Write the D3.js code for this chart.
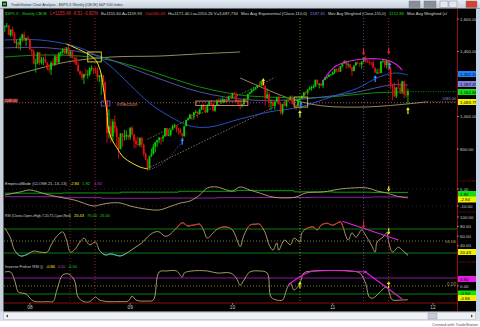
<!DOCTYPE html>
<html><head><meta charset="utf-8">
<script src="https://cdn.jsdelivr.net/npm/d3@7"></script>
<style>body{margin:0;background:#fff;overflow:hidden}svg{display:block}text{font-family:"Liberation Sans",Arial,sans-serif}</style>
</head><body><svg id="c" width="480" height="327"></svg>
<script>
// ---------- DATA (weekly S&P 500, week ending Fridays from 2007-10-05) ----------
const closes=[1557,1561,1501,1535,1509,1453,1458,1440,1481,1504,1467,1484,1478,
1411,1401,1325,1330,1395,1331,1349,1353,1331,1294,1288,1330,1316,1370,1332,1390,1398,1413,1389,1425,1375,1400,1361,1360,1318,1278,1262,1239,1260,1257,1260,1296,1298,1292,1282,1242,1252,1255,1213,1099,899,940,877,968,930,873,800,896,876,879,887,872,
931,890,850,831,825,869,827,770,735,683,756,768,815,842,856,869,866,877,929,882,887,919,940,946,921,918,896,879,940,979,987,1010,1005,1026,1029,1016,1042,1068,1044,1025,1071,1087,1079,1036,1069,1093,1091,1092,1106,1106,1102,1127,1115,
1145,1136,1092,1074,1066,1075,1109,1105,1139,1150,1160,1167,1179,1194,1192,1217,1187,1111,1136,1088,1089,1065,1092,1117,1076,1023,1078,1065,1103,1102,1122,1079,1071,1065,1105,1110,1125,1149,1147,1166,1176,1183,1183,1226,1200,1200,1190,1225,1240,1244,1257,1258,
1272,1293,1283,1276,1311,1329,1343,1320,1321,1304,1279,1314,1332,1329,1320,1338,1364,1340,1338,1333,1331,1300,1271,1271,1268,1340,1344,1316,1345,1292,1199,1179,1124,1177,1174,1154,1216,1136,1131,1155];
const highs=[1561,1576,1564,1536,1552,1520,1474,1460,1488,1510,1524,1485,1498,
1471,1418,1414,1355,1396,1396,1367,1367,1388,1332,1321,1341,1359,1380,1380,1395,1402,1422,1425,1426,1440,1406,1406,1370,1370,1335,1285,1278,1262,1292,1285,1302,1314,1300,1303,1303,1255,1266,1255,1214,1095,1044,985,984,1007,941,874,896,896,918,914,880,
934,943,888,871,877,870,876,835,780,741,758,803,832,845,856,875,871,888,930,924,924,920,951,956,946,930,930,896,943,980,996,1018,1013,1027,1040,1031,1048,1074,1080,1061,1076,1096,1101,1085,1072,1105,1113,1112,1119,1108,1117,1129,1131,
1146,1150,1150,1103,1104,1080,1112,1113,1139,1151,1170,1181,1181,1195,1214,1218,1219,1197,1174,1150,1106,1105,1092,1120,1131,1083,1078,1099,1103,1120,1128,1130,1097,1074,1105,1110,1131,1149,1158,1167,1184,1189,1196,1227,1227,1207,1206,1225,1241,1246,1259,1262,
1278,1293,1296,1302,1311,1330,1344,1344,1332,1322,1303,1314,1337,1339,1328,1339,1364,1371,1349,1346,1334,1346,1301,1292,1298,1341,1356,1340,1347,1346,1308,1200,1208,1182,1230,1204,1220,1220,1195,1171];
const lows=[1521,1546,1500,1490,1492,1450,1420,1416,1406,1460,1467,1435,1468,
1410,1370,1320,1270,1322,1317,1320,1316,1330,1283,1270,1256,1312,1312,1330,1324,1370,1380,1383,1384,1373,1364,1358,1326,1316,1275,1252,1225,1200,1248,1233,1248,1278,1261,1263,1217,1212,1133,1180,1089,840,865,840,845,899,818,741,798,815,851,857,857,
857,883,804,805,821,812,808,754,731,667,672,751,767,779,814,838,826,845,878,878,879,877,916,929,903,888,896,869,875,941,974,984,978,980,1018,991,1015,1038,1041,1019,1026,1065,1070,1030,1029,1068,1085,1083,1086,1085,1093,1099,1114,
1114,1131,1090,1071,1045,1056,1073,1086,1104,1136,1145,1156,1165,1175,1188,1186,1184,1066,1111,1056,1040,1061,1042,1087,1073,1011,1010,1063,1056,1089,1102,1076,1069,1040,1064,1091,1107,1122,1131,1131,1162,1160,1171,1180,1194,1173,1185,1174,1222,1231,1242,1252,
1257,1262,1271,1275,1276,1302,1324,1294,1300,1291,1249,1280,1313,1322,1306,1295,1333,1330,1330,1318,1312,1298,1268,1261,1262,1267,1330,1301,1295,1282,1168,1101,1120,1113,1172,1136,1137,1114,1116,1075];
const firstOpen=1557;
const yearLabels=["08","09","10","11","12"];
const yearStarts=["2008-01-04","2009-01-02","2010-01-08","2011-01-07","2012-01-06"];
const priceTicks=[1600,1400,1000,800];
// moving averages traced [week index, price]
const maBlue=[[0,1471],[18,1471],[34,1440],[44,1397],[54,1317],[65,1194],[75,1083],[86,997],[96,942],[106,935],[122,985],[137,1028],[153,1058],[169,1120],[183,1175],[194,1243],[203,1268],[209,1255]];
const maPurple=[[0,1422],[23,1422],[49,1372],[75,1255],[101,1151],[127,1102],[148,1102],[169,1126],[183,1151],[200,1194],[209,1194]];
const maGreen=[[0,1366],[18,1378],[39,1372],[54,1348],[70,1298],[86,1237],[101,1182],[122,1132],[137,1120],[157,1114],[174,1126],[191,1145],[209,1151]];
const tanArc1=[[0,1237],[11,1274],[32,1335],[55,1366],[80,1372],[100,1385],[122,1397]];
const tanArc2=[[122,1237],[137,1160],[150,1102],[165,1065],[185,1058],[200,1068],[219,1090]];
const yellowArc=[[32,1446],[43,1385],[47,1348],[49.4,1286],[51,1182],[52,1102],[53,1022],[53.5,935],[55.6,855],[58.2,806],[61.3,751],[65.9,714],[70.1,689],[74.2,677]];
const purpleArc=[[74.2,670],[80.5,701],[85.6,751],[89.3,806],[91.9,843],[92.4,874]];
const magentaArc=[[164.5,1212],[167.1,1255],[170.2,1298],[173.8,1323],[179,1342],[185.7,1354],[194.5,1354],[199.7,1342],[203.4,1317],[206,1286]];
const chanLow=[[74,680],[140,1060]];
const chanHigh=[[74,860],[140,1240]];
const level1085=1085;
// EMD panel
const emdTrend=[[0,-0.3],[8,2.4],[13,4.1],[21,0.6],[28,-2.1],[36,-4.7],[46,-10],[49,-9.1],[54,-7.4],[60,-7.4],[65,-10],[73,-12.7],[80,-13.5],[85,-10.9],[91,-7.4],[96,-5.6],[101,-0.3],[105,5.9],[110,6.8],[115,4.1],[118,3.2],[122,6.8],[127,4.1],[132,1.5],[139,-2.1],[146,-2.9],[151,-2.1],[156,1.5],[165,2.4],[174,5],[180,5.9],[188,5.9],[193,3.2],[198,1.5],[203,-1.2],[209,-2.84]];
const emdUpper=[[0,1.3],[30,1.5],[60,2.2],[90,3.0],[120,3.8],[130,3.5],[150,2.5],[170,2.2],[190,2.0],[209,1.92]];
const emdLower=[[0,-1.8],[30,-2.6],[50,-3.2],[80,-3.0],[110,-2.6],[130,-2.5],[160,-2.3],[190,-2.0],[209,-1.92]];
// RSI panel
const rsiVals=[[0,77],[3,56],[5,31],[8,19],[11,21],[15,29],[18,27],[22,27],[24,42],[27,60],[30,69],[32,52],[34,27],[36,31],[39,48],[41,56],[44,42],[47,48],[49,31],[52,21],[55,23],[60,19],[64,27],[67,35],[71,46],[75,62],[78,69],[80,69],[83,60],[85,62],[89,77],[92,88],[95,81],[97,83],[98,83],[101,85],[103,73],[105,56],[108,67],[111,77],[115,79],[118,73],[121,46],[122,38],[124,62],[127,83],[130,85],[132,85],[135,67],[137,42],[139,31],[141,46],[142,31],[145,52],[148,42],[150,56],[153,48],[154,67],[157,77],[160,79],[162,73],[164,83],[167,87],[170,83],[174,90],[175,83],[178,52],[180,67],[182,58],[185,73],[187,62],[190,42],[192,27],[193,48],[196,58],[198,67],[199,48],[201,27],[204,37],[206,31],[209,20.43]];
const rsiTrend=[[175,91],[204,52]];
// Inverse Fisher panel
const fishVals=[[0,0.875],[3,0.875],[5,0.375],[7,-0.375],[9,-0.44],[11,-0.5],[14,-0.875],[16,-0.98],[22,-0.98],[25,-0.97],[27,-0.25],[30,0.69],[33,0.75],[36,0.375],[38,-0.69],[41,-0.98],[44,-0.98],[47,-0.69],[49,-0.875],[54,-0.98],[60,-0.97],[64,-0.94],[66,-0.63],[68,-0.88],[74,-0.94],[77,-0.88],[80,0.875],[84,0.94],[89,0.94],[92,0.56],[93,0.81],[97,0.94],[105,0.94],[110,0.81],[117,0.81],[120,0.5],[122,0.06],[124,0.375],[127,0.875],[132,0.94],[136,0.81],[138,-0.69],[141,-0.875],[144,-0.875],[146,-0.25],[148,0.19],[150,-0.25],[153,0.19],[155,0.81],[160,0.94],[170,0.97],[179,0.94],[184,0.81],[187,0.19],[189,-0.69],[191,-0.75],[194,-0.44],[198,-0.06],[200,-0.69],[201,-0.875],[206,-0.875],[209,-0.86]];
const fishArc=[[147,0.06],[152,0.5],[158,0.875],[170,0.97],[178,0.94],[187,0.875]];
const fishLine=[[187,0.875],[206,-0.81]];

// ---------- SCALES ----------
const svg=d3.select('#c');
const t0=new Date(2007,9,5);
const wk=i=>new Date(t0.getTime()+i*7*86400000);
const x=d3.scaleTime().domain([new Date(2007,9,2),new Date(2012,3,2)]).range([4,457]);
const X=i=>x(wk(i));
const yP=d3.scaleLinear().domain([800,1600]).range([149,19]);
const yE=d3.scaleLinear().domain([-10,5]).range([206,189]);
const yR=d3.scaleLinear().domain([0,100]).range([265,217]);
const yF=d3.scaleLinear().domain([-1,1]).range([302,270]);
const L=4,R=457;

svg.append('rect').attr('width',480).attr('height',327).attr('fill','#000');
const defs=svg.append('defs');
function clip(id,y0,y1,x0=L,x1=R){defs.append('clipPath').attr('id',id).append('rect').attr('x',x0).attr('y',y0).attr('width',x1-x0).attr('height',y1-y0);}
clip('cm',18,181);clip('ce',181,212);clip('cr',212,262);clip('cf',262,303);
clip('crHi',212,yR(75));clip('crLo',yR(25),262);

const gM=svg.append('g').attr('clip-path','url(#cm)');
const gE=svg.append('g').attr('clip-path','url(#ce)');
const gR=svg.append('g').attr('clip-path','url(#cr)');
const gF=svg.append('g').attr('clip-path','url(#cf)');

// fitted text helper: font size chosen so the natural width equals w
function ftext(g,xx,y,t,c,w,anchor){
  const el=g.append('text').attr('x',xx).attr('y',y).text(t).attr('fill',c).attr('font-size',10);
  if(anchor)el.attr('text-anchor',anchor);
  const n=el.node().getComputedTextLength();
  el.attr('font-size',Math.min(5.2,10*w/n));
  return el;
}

// vertical dotted cycle lines
[[33.8,'#b03030'],[46.8,'#b03030'],[153,'#a0a030'],[186,'#8040c0'],[199,'#c03030']].forEach(([i,c])=>{
  svg.append('line').attr('x1',X(i)).attr('x2',X(i)).attr('y1',18).attr('y2',303).attr('stroke',c).attr('stroke-width',0.8).attr('stroke-dasharray','1,2');
});

// horizontal level 1085
gM.append('line').attr('x1',L).attr('x2',R).attr('y1',yP(level1085)).attr('y2',yP(level1085)).attr('stroke','#c07060').attr('stroke-width',0.8).attr('stroke-dasharray','1,2');
gM.append('rect').attr('x',L).attr('y',yP(level1085)-4).attr('width',14).attr('height',4).attr('fill','#802020');
ftext(gM,L+1,yP(level1085)-0.8,'1085.00','#ffb0a0',12);
ftext(svg,456,yP(level1085)-2.5,'1085.00','#9a8ad0',14,'end');

// curves helper
function curve(g,data,sx,sy,color,w,dash,type){
  g.append('path').datum(data).attr('d',d3.line().x(d=>sx(d[0])).y(d=>sy(d[1])).curve(type||d3.curveCatmullRom)).attr('fill','none').attr('stroke',color).attr('stroke-width',w).attr('stroke-dasharray',dash||null);
}
curve(gM,tanArc1,X,yP,'#a89868',0.9);
curve(gM,tanArc2,X,yP,'#a89868',0.9);
curve(gM,chanLow,X,yP,'#9a8a5a',0.8,'1.5,1.5',d3.curveLinear);
curve(gM,chanHigh,X,yP,'#9a8a5a',0.8,'1.5,1.5',d3.curveLinear);
curve(gM,maGreen,X,yP,'#10a010',0.9);
curve(gM,maPurple,X,yP,'#5a5ab8',0.9);
curve(gM,maBlue,X,yP,'#2a5ad8',0.9);

// candles
closes.forEach((c,i)=>{
  const o=i?closes[i-1]:firstOpen;
  const hi=Math.max(highs[i],o,c), lo=Math.min(lows[i],o,c);
  const col=c>=o?'#00d000':'#e01010';
  const cx=X(i);
  gM.append('line').attr('x1',cx).attr('x2',cx).attr('y1',yP(hi)).attr('y2',yP(lo)).attr('stroke',col).attr('stroke-width',0.9);
  gM.append('rect').attr('x',cx-0.9).attr('y',yP(Math.max(o,c))).attr('width',1.8).attr('height',Math.max(0.8,Math.abs(yP(o)-yP(c)))).attr('fill',col);
});

curve(gM,yellowArc,X,yP,'#f0e020',1);
curve(gM,purpleArc,X,yP,'#9040d0',0.9,'1,1.2');
curve(gM,magentaArc,X,yP,'#e020e0',1.1);

// boxes
function box(i0,i1,p0,p1,col){gM.append('rect').attr('x',X(i0)).attr('y',yP(p0)).attr('width',X(i1)-X(i0)).attr('height',yP(p1)-yP(p0)).attr('fill','none').attr('stroke',col).attr('stroke-width',0.9);}
box(43,50,1397,1336,'#e8e020');
box(50,54.5,1095,1065,'#6050b0');
box(99,126,1095,1068,'#e09070');
box(150,157,1120,1058,'#c8c040');
ftext(gM,X(58),yP(1062),'Inflection','#d07a60',21);

// arrows
function arrow(g,cx,tip,dir,col,len=7){
  const s=dir==='up'?1:-1;
  g.append('line').attr('x1',cx).attr('x2',cx).attr('y1',tip+s*2).attr('y2',tip+s*len).attr('stroke',col).attr('stroke-width',1.2);
  g.append('path').attr('d',`M${cx},${tip}L${cx-1.8},${tip+s*3}L${cx+1.8},${tip+s*3}Z`).attr('fill',col);
}
arrow(gM,X(186),yP(1375),'down','#e02020');
arrow(gM,X(199),yP(1382),'down','#e02020');
arrow(gM,X(92),yP(870),'up','#3090ff');
arrow(gM,X(153.5),yP(1092),'up','#3090ff');
arrow(gM,X(192),yP(1255),'up','#3090ff');
arrow(gM,X(199.5),yP(1335),'up','#3090ff');
arrow(gM,X(134),yP(1237),'up','#f0f020');
arrow(gM,X(153),yP(1040),'up','#f0f020');
arrow(gM,X(209),yP(1058),'up','#f0f020');

// extension dotted lines to axis
gM.append('line').attr('x1',X(209)).attr('x2',R).attr('y1',yP(1152.86)).attr('y2',yP(1152.86)).attr('stroke','#10a010').attr('stroke-width',0.8).attr('stroke-dasharray','1,1.5');
gM.append('line').attr('x1',X(219)).attr('x2',R).attr('y1',yP(1090)).attr('y2',yP(1090)).attr('stroke','#a89868').attr('stroke-width',0.8).attr('stroke-dasharray','1,1.5');

// ---------- EMD panel ----------
[5,-10].forEach(v=>gE.append('line').attr('x1',L).attr('x2',R).attr('y1',yE(v)).attr('y2',yE(v)).attr('stroke','#404040').attr('stroke-width',0.6).attr('stroke-dasharray','1,3'));
curve(gE,emdUpper,X,yE,'#10b010',0.9,null,d3.curveStepAfter);
curve(gE,emdLower,X,yE,'#a020c0',0.9,null,d3.curveStepAfter);
curve(gE,emdTrend,X,yE,'#b8a870',0.9);
arrow(gE,X(199),yE(2.6),'down','#f0f020',6);

// ---------- RSI panel ----------
[[75,'#10a010',null],[50,'#a0a040','1,2'],[25,'#10a010',null]].forEach(([v,c,d])=>gR.append('line').attr('x1',L).attr('x2',R).attr('y1',yR(v)).attr('y2',yR(v)).attr('stroke',c).attr('stroke-width',0.8).attr('stroke-dasharray',d));
curve(gR,rsiVals,X,yR,'#b8a870',0.9);
const gRh=svg.append('g').attr('clip-path','url(#crHi)');curve(gRh,rsiVals,X,yR,'#e02020',0.9);
const gRl=svg.append('g').attr('clip-path','url(#crLo)');curve(gRl,rsiVals,X,yR,'#20c0c0',0.9);
curve(gR,rsiTrend,X,yR,'#e020e0',1.1,null,d3.curveLinear);
arrow(gR,X(186),yR(76),'down','#e02020',8);
arrow(gR,X(199),yR(63),'down','#f0f020',7);
ftext(svg,456,yR(50)+1.5,'50.00','#a09850',11,'end');

// ---------- Fisher panel ----------
[[0.5,'#b020c0',null],[0,'#a0a040','1,2'],[-0.5,'#10a010',null]].forEach(([v,c,d])=>gF.append('line').attr('x1',L).attr('x2',R).attr('y1',yF(v)).attr('y2',yF(v)).attr('stroke',c).attr('stroke-width',0.8).attr('stroke-dasharray',d));
curve(gF,fishVals,X,yF,'#b8a870',0.9);
curve(gF,fishArc,X,yF,'#e020e0',1.1);
curve(gF,fishLine,X,yF,'#e020e0',1.1,null,d3.curveLinear);
gF.append('circle').attr('cx',X(187)).attr('cy',yF(0.875)).attr('r',1.3).attr('fill','#e020e0');
arrow(gF,X(153),yF(0.3),'up','#f0f020',7);
arrow(gF,X(199),yF(0.32),'up','#f0f020',7);
ftext(svg,456,yF(0)-0.5,'0.00','#a09850',9,'end');
svg.append('line').attr('x1',L).attr('x2',R).attr('y1',303).attr('y2',303).attr('stroke','#a01010').attr('stroke-width',0.9);

// ---------- right axis ----------
svg.append('line').attr('x1',R+0.5).attr('x2',R+0.5).attr('y1',9).attr('y2',311).attr('stroke','#a01010').attr('stroke-width',0.9);
[181,212,262].forEach(y=>svg.append('line').attr('x1',R).attr('x2',476).attr('y1',y).attr('y2',y).attr('stroke','#a01010').attr('stroke-width',0.8).attr('stroke-dasharray','1.5,1'));
const fmt=d3.format(',.2f');
function tick(y,txt){svg.append('line').attr('x1',R).attr('x2',R+2).attr('y1',y).attr('y2',y).attr('stroke','#c0c0c0').attr('stroke-width',0.6);
  svg.append('text').attr('x',R+3).attr('y',y+1.6).text(txt).attr('font-size',4.4).attr('fill','#c8c8c8');}
function tag(y,txt,bg,fg){svg.append('rect').attr('x',R+1).attr('y',y-3).attr('width',18).attr('height',6).attr('fill',bg);
  svg.append('text').attr('x',R+3).attr('y',y+1.6).text(txt).attr('font-size',4.4).attr('fill',fg||'#000');}
priceTicks.forEach(p=>tick(yP(p),fmt(p)));
tag(74,'1,262.10','#2080ff','#000');
tag(84,'1,187.45','#8080e0','#000');
tag(92,'1,152.86','#10e010','#000');
tag(102,'1,083.79','#f0f000','#000');
tick(yE(5),'5.00');tick(yE(-10),'-10.00');
tag(194,'1.92','#10e010');tag(199.5,'-2.84','#f0f000');
[100,80,60,40].forEach(v=>tick(yR(v),fmt(v)));
tag(252,'20.43','#f0f000');
tag(279,'0.50','#e020e0');tick(286,'0.00');tag(293.5,'-0.50','#10e010');tag(298,'-0.86','#f0f000');

// ---------- x axis ----------
yearStarts.forEach((d,k)=>{const xx=x(new Date(d+'T00:00'));
  svg.append('line').attr('x1',xx).attr('x2',xx).attr('y1',303).attr('y2',305).attr('stroke','#c0c0c0').attr('stroke-width',0.6);
  svg.append('text').attr('x',xx).attr('y',309).attr('text-anchor','middle').text(yearLabels[k]).attr('font-size',4.8).attr('fill','#c8c8c8');});

// ---------- panel headers ----------
function hdr(y,parts){let xx=5;parts.forEach(([t,c,w])=>{ftext(svg,xx,y,t,c,w);xx+=w+3;});}
hdr(15,[['$SPX.X - Weekly  CBOE','#20d020',42],['L=1155.46  -9.51  -0.82%','#e03030',48],['B=1155.60  A=1159.93','#d0d0d0',41],['O=1165.03','#e03030',20],['Hi=1171.40  Lo=1150.26  V=3,687,734','#d0d0d0',70],['Mov Avg Exponential (Close,110,0)','#d0d0d0',66],['1187.45','#8080e0',15],['Mov Avg Weighted (Close,155,0)','#d0d0d0',58],['1152.86','#20d020',15],['Mov Avg Weighted (cl','#d0d0d0',40]]);
hdr(185,[['EmpiricalMode (CLOSE,21,.13,.13)','#d0d0d0',62],['-2.84','#f0f020',9],['1.92','#20d020',8],['-1.92','#d040d0',9]]);
hdr(217,[['RSI (Close+Open+High,7,20,T5,Cyan,Red)','#d0d0d0',66],['20.43','#f0f020',10],['75.00','#20d020',10],['25.00','#20d020',10]]);
hdr(268,[['Inverse Fisher RSI ()','#d0d0d0',38],['-0.86','#f0f020',9],['0.50','#d040d0',7],['-0.50','#20d020',9]]);

// ---------- window chrome ----------
const tb=defs.append('linearGradient').attr('id','tb').attr('x1',0).attr('y1',0).attr('x2',0).attr('y2',1);
tb.append('stop').attr('offset',0).attr('stop-color','#e6ecf4');tb.append('stop').attr('offset',1).attr('stop-color','#c4cedc');
svg.append('rect').attr('x',0).attr('y',0).attr('width',480).attr('height',8.5).attr('fill','url(#tb)');
svg.append('rect').attr('x',2).attr('y',1.5).attr('width',5).attr('height',5).attr('fill','#103010');
svg.append('rect').attr('x',3).attr('y',3).attr('width',3).attr('height',2).attr('fill','#30c030');
ftext(svg,11,6.2,'TradeStation Chart Analysis - $SPX.X Weekly [CBOE] S&P 500 Index','#303848',112);
[[409,11,'#8a8e98'],[424,12,'#8a8e98'],[440,8,'#e4e8ee'],[449,8,'#e4e8ee'],[466,11,'#d84030']].forEach(([bx,bw,c])=>svg.append('rect').attr('x',bx).attr('y',1).attr('width',bw).attr('height',6.5).attr('fill',c).attr('stroke','#707480').attr('stroke-width',0.4));
svg.append('rect').attr('x',0).attr('y',8.5).attr('width',3.5).attr('height',313).attr('fill','#c8d0dc');
svg.append('rect').attr('x',476).attr('y',8.5).attr('width',4).attr('height',313).attr('fill','#c4d2e6');
svg.append('rect').attr('x',0).attr('y',311.5).attr('width',480).attr('height',9.5).attr('fill','#dde2ea');
svg.append('rect').attr('x',3.5).attr('y',312.5).attr('width',472).attr('height',7).attr('fill','#eef0f4').attr('stroke','#b0b8c4').attr('stroke-width',0.5);
svg.append('rect').attr('x',428).attr('y',313).attr('width',9).attr('height',6).attr('fill','#c8ccd8').attr('stroke','#9098a8').attr('stroke-width',0.4);
svg.append('path').attr('d','M6,316L8,314.5L8,317.5Z').attr('fill','#404040');
svg.append('path').attr('d','M473,316L471,314.5L471,317.5Z').attr('fill','#404040');
svg.append('rect').attr('x',0).attr('y',321).attr('width',480).attr('height',6).attr('fill','#ffffff');
ftext(svg,478,326,'Created with TradeStation','#505050',46,'end');
</script></body></html>
